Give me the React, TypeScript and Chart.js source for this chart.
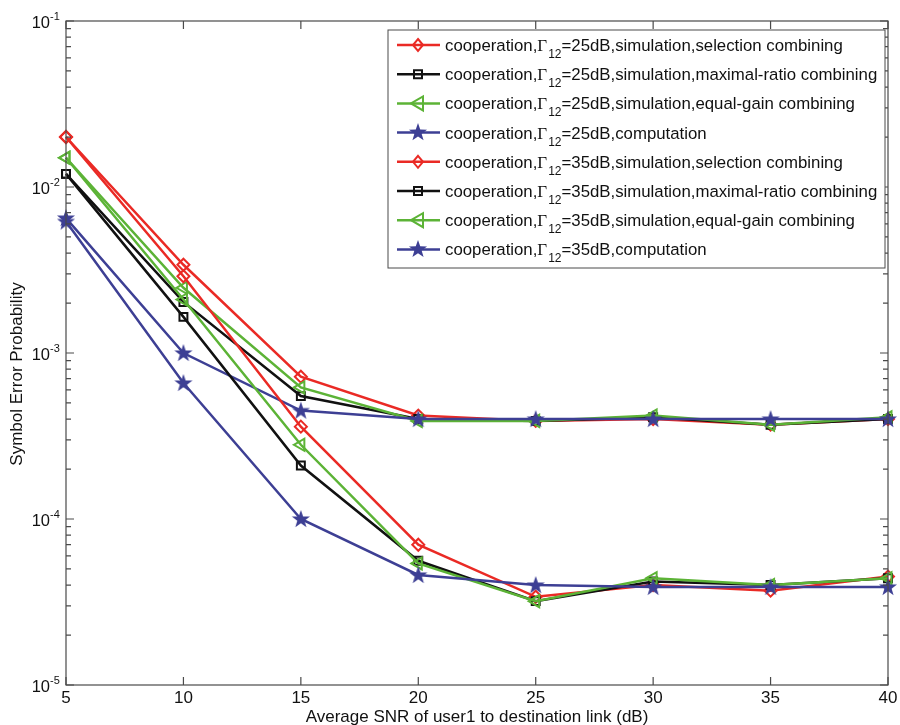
import React, { useEffect, useRef } from "react";
import { Chart, registerables } from "chart.js";

Chart.register(...registerables);

const snr = [5, 10, 15, 20, 25, 30, 35, 40];
const sc25 = [0.02, 0.0034, 0.00072, 0.00042, 0.00039, 0.0004, 0.00037, 0.0004];
const mrc25 = [0.012, 0.00203, 0.00055, 0.0004, 0.00039, 0.00041, 0.00037, 0.0004];
const egc25 = [0.015, 0.00247, 0.00062, 0.00039, 0.00039, 0.00042, 0.00037, 0.00041];
const comp25 = [0.0065, 0.001, 0.00045, 0.0004, 0.0004, 0.0004, 0.0004, 0.0004];
const sc35 = [0.02, 0.0029, 0.00036, 0.00007, 0.000034, 0.00004, 0.000037, 0.000045];
const mrc35 = [0.012, 0.00165, 0.00021, 0.000056, 0.000032, 0.000042, 0.00004, 0.000044];
const egc35 = [0.015, 0.0021, 0.00028, 0.000054, 0.000032, 0.000044, 0.00004, 0.000044];
const comp35 = [0.0062, 0.00066, 0.0001, 0.000046, 0.00004, 0.000039, 0.000039, 0.000039];

const xTicks = [5, 10, 15, 20, 25, 30, 35, 40];
const yDecades = [-5, -4, -3, -2, -1];

const labelSuffixes = [
  "=25dB,simulation,selection combining",
  "=25dB,simulation,maximal-ratio combining",
  "=25dB,simulation,equal-gain combining",
  "=25dB,computation",
  "=35dB,simulation,selection combining",
  "=35dB,simulation,maximal-ratio combining",
  "=35dB,simulation,equal-gain combining",
  "=35dB,computation",
];
const seriesValues = [sc25, mrc25, egc25, comp25, sc35, mrc35, egc35, comp35];

const RED = "#ea2a25";
const BLACK = "#111111";
const GREEN = "#5cb336";
const BLUE = "#3d3f94";
const kinds = ["diamond", "square", "triangle", "star", "diamond", "square", "triangle", "star"];
const colors = [RED, BLACK, GREEN, BLUE, RED, BLACK, GREEN, BLUE];

const FONT = '"Liberation Sans", Arial, Helvetica, sans-serif';
const SERIF = '"Liberation Serif", "Times New Roman", serif';

function starPath(ctx: CanvasRenderingContext2D, cx: number, cy: number, ro: number, ri: number) {
  ctx.beginPath();
  for (let k = 0; k < 10; k++) {
    const r = k % 2 === 0 ? ro : ri;
    const a = -Math.PI / 2 + (k * Math.PI) / 5;
    const px = cx + r * Math.cos(a);
    const py = cy + r * Math.sin(a);
    if (k === 0) ctx.moveTo(px, py);
    else ctx.lineTo(px, py);
  }
  ctx.closePath();
}

function makeStar(color: string) {
  const c = document.createElement("canvas");
  c.width = 20;
  c.height = 20;
  const g = c.getContext("2d")!;
  g.fillStyle = color;
  starPath(g, 10, 10.5, 9.5, 3.8);
  g.fill();
  return c;
}

function drawMarker(ctx: CanvasRenderingContext2D, kind: string, color: string, x: number, y: number) {
  ctx.save();
  ctx.strokeStyle = color;
  ctx.fillStyle = color;
  ctx.lineWidth = 2;
  ctx.beginPath();
  if (kind === "diamond") {
    ctx.moveTo(x, y - 6);
    ctx.lineTo(x + 5, y);
    ctx.lineTo(x, y + 6);
    ctx.lineTo(x - 5, y);
    ctx.closePath();
    ctx.stroke();
  } else if (kind === "square") {
    ctx.rect(x - 4, y - 4, 8, 8);
    ctx.stroke();
  } else if (kind === "triangle") {
    ctx.moveTo(x - 7, y);
    ctx.lineTo(x + 5, y - 7);
    ctx.lineTo(x + 5, y + 7);
    ctx.closePath();
    ctx.stroke();
  } else {
    starPath(ctx, x, y, 9.5, 3.8);
    ctx.fill();
  }
  ctx.restore();
}

const framePlugin = {
  id: "frame",
  afterDraw(chart: any) {
    const ctx: CanvasRenderingContext2D = chart.ctx;
    const { left, right, top, bottom } = chart.chartArea;
    const xs = chart.scales.x;
    const ys = chart.scales.y;
    ctx.save();
    ctx.strokeStyle = "#4a4a4a";
    ctx.lineWidth = 1.2;
    ctx.strokeRect(left, top, right - left, bottom - top);
    ctx.beginPath();
    for (const t of xTicks) {
      const px = xs.getPixelForValue(t);
      ctx.moveTo(px, bottom);
      ctx.lineTo(px, bottom - 8);
      ctx.moveTo(px, top);
      ctx.lineTo(px, top + 8);
    }
    for (let d = -5; d <= -1; d++) {
      for (let m = 1; m <= 9; m++) {
        if (d === -1 && m > 1) break;
        const v = m * Math.pow(10, d);
        const py = ys.getPixelForValue(v);
        const len = m === 1 ? 8 : 5;
        ctx.moveTo(left, py);
        ctx.lineTo(left + len, py);
        ctx.moveTo(right, py);
        ctx.lineTo(right - len, py);
      }
    }
    ctx.stroke();

    ctx.fillStyle = "#111";
    ctx.textAlign = "center";
    ctx.textBaseline = "middle";
    ctx.font = `17px ${FONT}`;
    for (const t of xTicks) {
      ctx.fillText(String(t), xs.getPixelForValue(t), bottom + 13);
    }
    for (const d of yDecades) {
      const py = ys.getPixelForValue(Math.pow(10, d));
      ctx.font = `16.5px ${FONT}`;
      ctx.textAlign = "right";
      ctx.textBaseline = "middle";
      ctx.fillText("10", left - 16, py + 2.5);
      ctx.font = `11px ${FONT}`;
      ctx.textAlign = "left";
      ctx.fillText(String(d), left - 16, py - 4.5);
    }
    ctx.font = `17px ${FONT}`;
    ctx.textAlign = "center";
    ctx.textBaseline = "middle";
    ctx.fillText("Average SNR of user1 to destination link (dB)", (left + right) / 2, bottom + 32);
    ctx.save();
    ctx.translate(17, (top + bottom) / 2 + 21);
    ctx.rotate(-Math.PI / 2);
    ctx.fillText("Symbol Error Probability", 0, 0);
    ctx.restore();

    // legend
    const lx = 388, ly = 30, lw = 497, lh = 238;
    ctx.fillStyle = "#fff";
    ctx.fillRect(lx, ly, lw, lh);
    ctx.strokeStyle = "#4a4a4a";
    ctx.lineWidth = 1;
    ctx.strokeRect(lx, ly, lw, lh);
    chart.data.datasets.forEach((ds: any, i: number) => {
      const yy = ly + 15 + i * 29.2;
      ctx.strokeStyle = colors[i];
      ctx.lineWidth = 2.5;
      ctx.beginPath();
      ctx.moveTo(397, yy);
      ctx.lineTo(440, yy);
      ctx.stroke();
      drawMarker(ctx, kinds[i], colors[i], 418, yy);
      ctx.fillStyle = "#111";
      ctx.textAlign = "left";
      ctx.textBaseline = "alphabetic";
      ctx.font = `16.8px ${FONT}`;
      const pre = "cooperation,";
      let tx = 445;
      ctx.fillText(pre, tx, yy + 6);
      tx += ctx.measureText(pre).width;
      ctx.font = `17px ${SERIF}`;
      ctx.fillText("\u0393", tx, yy + 6);
      tx += ctx.measureText("\u0393").width + 1;
      ctx.font = `12px ${FONT}`;
      ctx.fillText("12", tx, yy + 13);
      tx += ctx.measureText("12").width;
      ctx.font = `16.8px ${FONT}`;
      ctx.fillText(ds.suffix, tx, yy + 6);
    });
    ctx.restore();
  },
};

export default function App() {
  const ref = useRef<HTMLCanvasElement>(null);
  useEffect(() => {
    const star = makeStar(BLUE);
    const datasets = seriesValues.map((vals, i) => {
      const kind = kinds[i];
      const color = colors[i];
      let pointStyle: any = "rectRot";
      let radius = 6;
      let rotation = 0;
      if (kind === "square") {
        pointStyle = "rect";
        radius = 5.6;
      } else if (kind === "triangle") {
        pointStyle = "triangle";
        radius = 7;
        rotation = -90;
      } else if (kind === "star") {
        pointStyle = star;
        radius = 10;
      }
      return {
        label: "cooperation,\u0393 12" + labelSuffixes[i],
        suffix: labelSuffixes[i],
        data: vals.map((v, k) => ({ x: snr[k], y: v })),
        borderColor: color,
        backgroundColor: "rgba(0,0,0,0)",
        borderWidth: 2.5,
        pointStyle,
        pointRadius: radius,
        pointRotation: rotation,
        pointBorderWidth: 2,
        pointBorderColor: color,
        pointBackgroundColor: "rgba(0,0,0,0)",
        tension: 0,
        clip: false as any,
        order: 7 - i,
      };
    });
    const chart = new Chart(ref.current!, {
      type: "line",
      data: { datasets } as any,
      options: {
        responsive: false,
        animation: false,
        devicePixelRatio: 1,
        layout: { padding: { left: 66, top: 21, right: 11, bottom: 40 } },
        plugins: { legend: { display: false }, tooltip: { enabled: false } },
        scales: {
          x: { type: "linear", min: 5, max: 40, display: false },
          y: { type: "logarithmic", min: 1e-5, max: 1e-1, display: false },
        },
      },
      plugins: [framePlugin],
    });
    return () => chart.destroy();
  }, []);
  return (
    <div style={{ position: "fixed", left: 0, top: 0, width: 900, height: 725, background: "#fff" }}>
      <canvas ref={ref} width={900} height={725} />
    </div>
  );
}
